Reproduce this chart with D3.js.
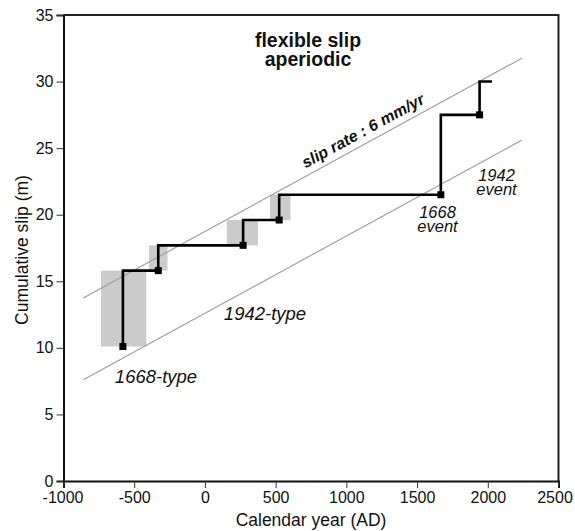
<!DOCTYPE html>
<html><head><meta charset="utf-8">
<script src="https://cdn.jsdelivr.net/npm/d3@7"></script>
<style>body{margin:0;background:#fff} svg{display:block} text{font-family:"Liberation Sans",Arial,Helvetica,sans-serif;fill:#111}</style>
</head><body><svg id="c" width="575" height="531"></svg>
<script>
// ---- data ----
const xTicks = [-1000, -500, 0, 500, 1000, 1500, 2000, 2500];
const yTicks = [0, 5, 10, 15, 20, 25, 30, 35];
const eventYears = [-580, -330, 270, 525, 1668, 1942];
const slipBefore = [10.1, 15.8, 17.7, 19.6, 21.5, 27.5];
const slipAfter  = [15.8, 17.7, 19.6, 21.5, 27.5, 30.0];
const endYear = 2030;
const boxYearMin = [-735, -395, 155, 460];
const boxYearMax = [-415, -265, 375, 605];
const boxSlipMin = [10.1, 15.8, 17.7, 19.6];
const boxSlipMax = [15.8, 17.7, 19.6, 21.5];
const boundYears = [-860, 2240];
const upperSlip = [13.75, 31.75];
const lowerSlip = [7.6, 25.6];

// ---- layout ----
const svg = d3.select("#c");
const x = d3.scaleLinear().domain([-1000, 2500]).range([63.5, 558.5]);
const y = d3.scaleLinear().domain([0, 35]).range([481, 15]);

// gray boxes
svg.append("g").selectAll("rect").data(boxYearMin).join("rect")
  .attr("x", (d, i) => x(d)).attr("width", (d, i) => x(boxYearMax[i]) - x(d))
  .attr("y", (d, i) => y(boxSlipMax[i])).attr("height", (d, i) => y(boxSlipMin[i]) - y(boxSlipMax[i]))
  .attr("fill", "#cbcbcb");

// bounding slip-rate lines
const bl = d3.line().x(d => x(d[0])).y(d => y(d[1]));
[upperSlip, lowerSlip].forEach(s => {
  svg.append("path").attr("d", bl(boundYears.map((yr, i) => [yr, s[i]])))
    .attr("stroke", "#9a9a9a").attr("stroke-width", 1.1).attr("fill", "none");
});

// step line
const pts = [[eventYears[0], slipBefore[0]]];
eventYears.forEach((yr, i) => {
  pts.push([yr, slipAfter[i]]);
  pts.push([i < eventYears.length - 1 ? eventYears[i + 1] : endYear, slipAfter[i]]);
});
svg.append("path").attr("d", bl(pts)).attr("stroke", "#000").attr("stroke-width", 2.6)
  .attr("fill", "none").attr("stroke-linejoin", "miter");
svg.append("g").selectAll("rect").data(eventYears).join("rect")
  .attr("x", d => x(d) - 3.5).attr("y", (d, i) => y(slipBefore[i]) - 3.5)
  .attr("width", 7).attr("height", 7).attr("fill", "#000");

// frame top/right
svg.append("path").attr("d", `M${x(-1000)},${y(35)}H${x(2500)}V${y(0)}`)
  .attr("stroke", "#222").attr("stroke-width", 2).attr("fill", "none");

// axes
const fmt = d => d < 0 ? "-" + Math.abs(d) : String(d);
const gx = svg.append("g").attr("transform", `translate(0,${y(0)})`);
gx.call(d3.axisBottom(x).tickValues(d3.range(-1000, 2501, 100)).tickSize(4).tickFormat(""));
gx.call(d3.axisBottom(x).tickValues(xTicks).tickSize(7).tickPadding(4).tickFormat(fmt));
gx.selectAll(".tick text").filter(d => d === 2500).attr("dx", -4);
gx.selectAll(".tick text").filter(d => d === -1000).attr("dx", -1);
const gy = svg.append("g").attr("transform", `translate(${x(-1000)},0)`);
gy.call(d3.axisLeft(y).tickValues(d3.range(0, 36, 1)).tickSize(4).tickFormat(""));
gy.call(d3.axisLeft(y).tickValues(yTicks).tickSize(7).tickPadding(3).tickFormat(fmt));
svg.selectAll(".domain").attr("stroke", "#111").attr("stroke-width", 2);
svg.selectAll(".tick line").attr("stroke", "#333").attr("stroke-width", 1);
svg.selectAll(".tick text").attr("font-size", 16).attr("fill", "#111")
  .attr("font-family", '"Liberation Sans",Arial,Helvetica,sans-serif');

// axis titles
svg.append("text").attr("x", 311).attr("y", 526).attr("text-anchor", "middle")
  .attr("font-size", 17.5).text("Calendar year (AD)");
svg.append("text").attr("transform", "translate(28,250) rotate(-90)").attr("text-anchor", "middle")
  .attr("font-size", 17.5).text("Cumulative slip (m)");

// multi-line text helper (one text element, stacked tspans)
const multi = (lines, px, py, lh, fs, weight, style) => {
  const t = svg.append("text").attr("x", px).attr("y", py).attr("text-anchor", "middle")
    .attr("font-size", fs).attr("font-weight", weight).attr("font-style", style);
  lines.forEach((s, i) => t.append("tspan").attr("x", px).attr("dy", i === 0 ? 0 : lh).text(s));
};

// title
multi(["flexible slip", "aperiodic"], 308, 47, 18.5, 19.5, "bold", "normal");

// slip-rate label along the upper line
const ang = Math.atan2(y(upperSlip[1]) - y(upperSlip[0]), x(boundYears[1]) - x(boundYears[0])) * 180 / Math.PI;
const lx = 429, ly = y(upperSlip[0]) + (lx - x(boundYears[0])) * Math.tan(ang * Math.PI / 180);
svg.append("text").attr("transform", `translate(${lx},${ly}) rotate(${ang}) translate(0,-7)`)
  .attr("text-anchor", "end").attr("font-size", 16).attr("font-weight", "bold").attr("font-style", "italic")
  .text("slip rate : 6 mm/yr");

// italic annotations
multi(["1942-type"], 265, 320, 0, 18.5, "normal", "italic");
multi(["1668-type"], 156, 383, 0, 18.5, "normal", "italic");
multi(["1668", "event"], 437.5, 218, 13.5, 16.5, "normal", "italic");
multi(["1942", "event"], 496.5, 181, 13.5, 16.5, "normal", "italic");
</script></body></html>
